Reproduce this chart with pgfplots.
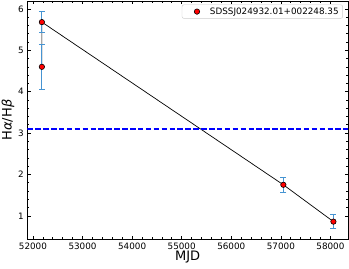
\documentclass[border=0pt]{standalone}
\usepackage{pgfplots}
\pgfplotsset{compat=1.18}
\usepackage{fontspec}
\setmainfont{DejaVu Sans}
\definecolor{errblue}{RGB}{70,148,210}
\definecolor{legedge}{RGB}{204,204,204}
\begin{document}
\begin{tikzpicture}
\begin{axis}[
  scale only axis,
  width=320.7pt, height=238pt,
  xmin=51886, xmax=58354,
  ymin=0.44, ymax=6.19,
  xtick={52000,53000,54000,55000,56000,57000,58000},
  ytick={1,2,3,4,5,6},
  minor x tick num=4, minor y tick num=4,
  scaled x ticks=false,
  /pgf/number format/.cd, 1000 sep={}, assume math mode=true,
  /pgfplots/.cd,
  tick align=inside,
  major tick length=3.5pt, minor tick length=2pt,
  every tick/.style={black, line width=0.6pt},
  axis line style={line width=0.7pt},
  tick label style={font=\fontsize{8.8}{10}\selectfont},
  xlabel={MJD},
  ylabel={H{\itshape α}/H{\itshape β}},
  label style={font=\fontsize{13}{15}\selectfont},
  xlabel style={at={(axis description cs:0.5,-0.074)}, anchor=center},
  ylabel style={at={(axis description cs:-0.060,0.5)}, anchor=center},
  legend style={at={(axis description cs:0.984,0.985)}, anchor=north east,
    draw=legedge, rounded corners=2pt, fill=white,
    font=\fontsize{8.8}{10}\selectfont, inner xsep=2pt, inner ysep=0.8pt},
  legend cell align=left,
]
\addplot[black, line width=0.7pt, mark=none, forget plot] coordinates {
  (52180,4.60) (52180,5.68) (57050,1.75) (58060,0.86)
};
\addplot[draw=errblue, only marks, mark=none, forget plot,
  error bars/.cd, y dir=both, y explicit,
  error bar style={draw=errblue, solid, line width=1pt},
  error mark options={rotate=90, mark size=3pt, draw=errblue, line width=1pt}]
  coordinates {
  (52180,5.68) +- (0,0.25)
  (52180,4.60) +- (0,0.54)
  (57050,1.75) +- (0,0.18)
  (58060,0.86) +- (0,0.16)
};
\addplot[blue, line width=1.5pt, dash pattern=on 5.5pt off 2.4pt, forget plot] coordinates {
  (51886,3.1) (58354,3.1)
};
\addplot[only marks, mark=*, mark size=2.7pt, mark options={fill=red, draw=black, line width=0.6pt},
  legend image code/.code={%
    \path[draw=none, fill=none] (0pt,0pt) rectangle (24pt,0pt);
    \node[circle, draw=black, fill=red, line width=0.6pt, inner sep=0pt, minimum size=5.4pt] at (10pt,0pt) {};}]
  coordinates {
  (52180,5.68) (52180,4.60) (57050,1.75) (58060,0.86)
};
\addlegendentry{SDSSJ024932.01+002248.35}
\end{axis}
\pgfresetboundingbox
\path[use as bounding box] ([xshift=-27.3pt,yshift=-29pt]current axis.south west) rectangle ([xshift=1pt,yshift=1pt]current axis.north east);
\end{tikzpicture}
\end{document}
